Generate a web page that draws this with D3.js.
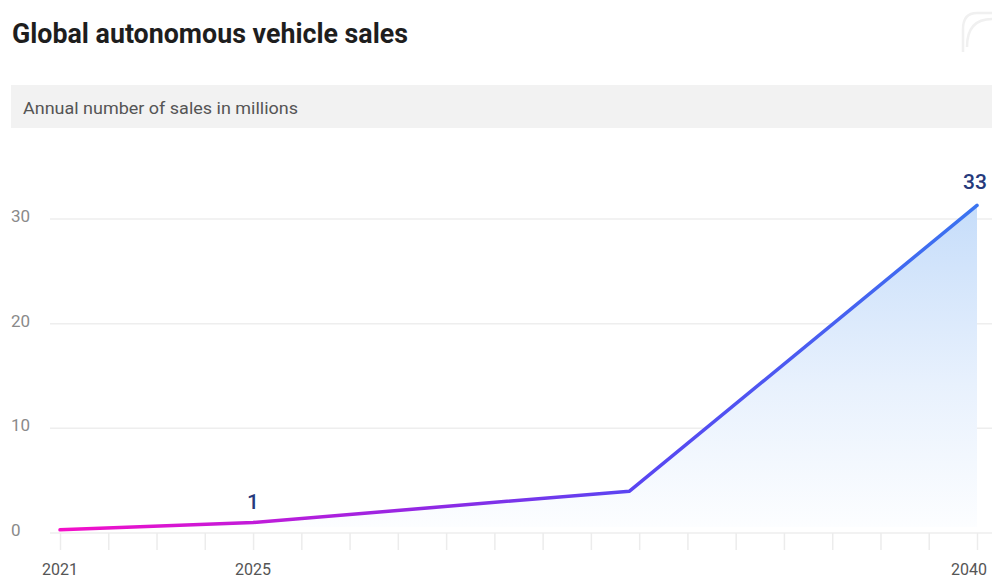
<!DOCTYPE html>
<html>
<head>
<meta charset="utf-8">
<script src="https://cdn.jsdelivr.net/npm/d3@7/dist/d3.min.js"></script>
<style>
  html, body { margin: 0; padding: 0; background: #fff; }
  svg { display: block; }
  text { font-family: Roboto, "Noto Sans", sans-serif; }
</style>
</head>
<body>
<svg id="chart" width="992" height="580"></svg>
<script>
// ---- data ----
const title = "Global autonomous vehicle sales";
const subtitle = "Annual number of sales in millions";
const years = [2021, 2025, 2032.8, 2040];
const sales = [0.3, 1.0, 4.0, 31.3];
const pointLabels = [null, "1", null, "33"];
const yTicks = [0, 10, 20, 30];
const xTickYears = d3.range(2021, 2041);
const xLabelYears = [2021, 2025, 2040];

// ---- layout ----
const svg = d3.select("#chart");
const W = 992, H = 580;
const x = d3.scaleLinear().domain([2021, 2040]).range([60, 977]);
const y = d3.scaleLinear().domain([0, 30]).range([533, 219]);

const defs = svg.append("defs");
const lg = defs.append("linearGradient").attr("id", "lineGrad")
  .attr("gradientUnits", "userSpaceOnUse")
  .attr("x1", x(2021)).attr("x2", x(2040)).attr("y1", 0).attr("y2", 0);
[[0, "#f50fc8"], [0.2, "#c41ad8"], [0.4, "#9128e4"], [0.62, "#5a44f2"], [1, "#3a74f0"]]
  .forEach(([o, c]) => lg.append("stop").attr("offset", o).attr("stop-color", c));

const ag = defs.append("linearGradient").attr("id", "areaGrad")
  .attr("gradientUnits", "userSpaceOnUse")
  .attr("x1", 0).attr("x2", 0).attr("y1", y(31.3)).attr("y2", y(0));
ag.append("stop").attr("offset", 0).attr("stop-color", "#c6ddfa");
ag.append("stop").attr("offset", 0.55).attr("stop-color", "#e8f1fd");
ag.append("stop").attr("offset", 1).attr("stop-color", "#fdfeff");

// title
svg.append("text").attr("x", 12).attr("y", 43)
  .attr("font-size", 28).attr("font-weight", 700).attr("fill", "#1e1e1e")
  .attr("textLength", 396).attr("lengthAdjust", "spacingAndGlyphs")
  .text(title);

// logo (faint)
svg.append("path")
  .attr("d", "M992,13 L977,13 Q963,13 963,29 L963,52 M967,47 Q967,19 992,19")
  .attr("fill", "none").attr("stroke", "#f0f0f0").attr("stroke-width", 2.5);

// subtitle band
svg.append("rect").attr("x", 11).attr("y", 85).attr("width", W - 11).attr("height", 43)
  .attr("fill", "#f2f2f2");
svg.append("text").attr("x", 23).attr("y", 114)
  .attr("font-size", 17).attr("fill", "#555")
  .attr("textLength", 275).attr("lengthAdjust", "spacingAndGlyphs")
  .text(subtitle);

// gridlines
svg.append("g").selectAll("line").data(yTicks).join("line")
  .attr("x1", 50).attr("x2", W).attr("y1", d => y(d)).attr("y2", d => y(d))
  .attr("stroke", "#eeeeee").attr("stroke-width", 1.5);

// y labels
svg.append("g").selectAll("text").data(yTicks).join("text")
  .attr("x", 11).attr("y", d => y(d) + 3)
  .attr("font-size", 17).attr("fill", "#8a8a8a")
  .text(d => d);

// x axis ticks
const xAxis = d3.axisBottom(x).tickValues(xTickYears).tickSize(17).tickFormat("");
const gx = svg.append("g").attr("transform", `translate(0,${y(0)})`).call(xAxis);
gx.select(".domain").remove();
gx.selectAll(".tick line").attr("stroke", "#ececec").attr("stroke-width", 1.5);

// x labels
svg.append("g").selectAll("text").data(xLabelYears).join("text")
  .attr("x", d => d === 2040 ? x(d) - 8 : x(d)).attr("y", 575)
  .attr("text-anchor", "middle").attr("font-size", 16).attr("fill", "#555")
  .text(d => d);

const pts = years.map((yr, i) => ({ yr, v: sales[i], label: pointLabels[i] }));

// area
const area = d3.area().x(d => x(d.yr)).y0(y(0) - 6).y1(d => y(d.v));
svg.append("path").datum(pts).attr("d", area).attr("fill", "url(#areaGrad)");

// line
const line = d3.line().x(d => x(d.yr)).y(d => y(d.v));
svg.append("path").datum(pts).attr("d", line)
  .attr("fill", "none").attr("stroke", "url(#lineGrad)")
  .attr("stroke-width", 3.5).attr("stroke-linejoin", "round").attr("stroke-linecap", "round");

// point labels
svg.append("g").selectAll("text").data(pts.filter(d => d.label)).join("text")
  .attr("x", d => x(d.yr) - (d.yr === 2040 ? 2 : 0))
  .attr("y", d => y(d.v) - (d.yr === 2040 ? 16 : 14))
  .attr("text-anchor", "middle").attr("font-size", 21).attr("font-weight", 500)
  .attr("fill", "#263a7c")
  .text(d => d.label);
</script>
</body>
</html>
